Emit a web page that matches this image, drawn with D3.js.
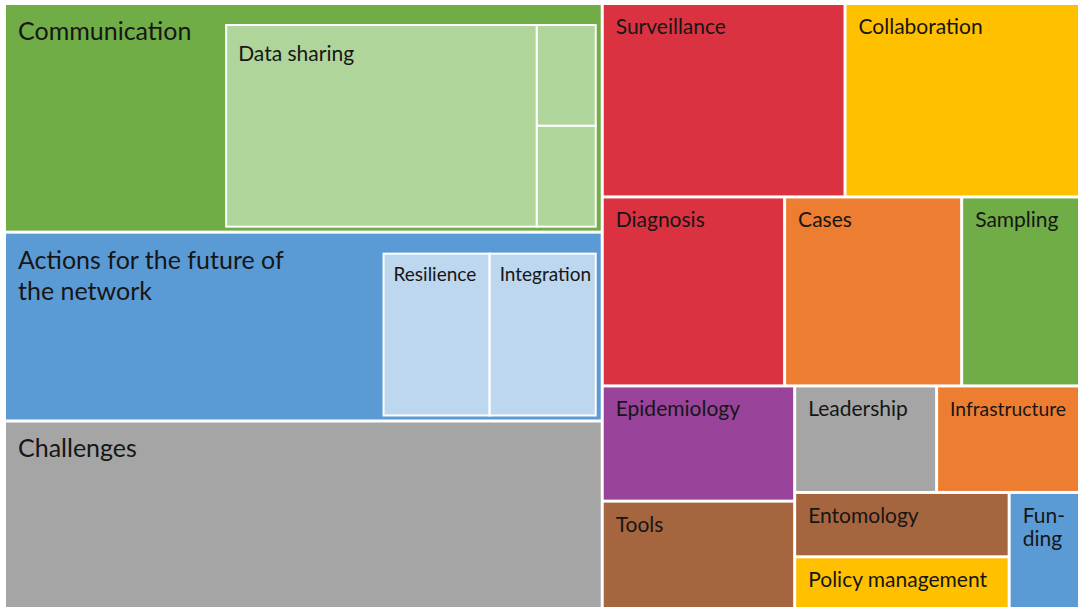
<!DOCTYPE html>
<html>
<head>
<meta charset="utf-8">
<script src="https://cdn.jsdelivr.net/npm/d3@7/dist/d3.min.js"></script>
<style>
  body { margin: 0; background: #fff; }
  svg { display: block; }
  text { font-family: Lato, "Open Sans", sans-serif; fill: #161616; }
</style>
</head>
<body>
<div id="chart"></div>
<script>
// Theme areas (share of coded mentions, arbitrary units)
const leftThemes = ["Communication", "Actions for the future of the network", "Challenges"];
const leftValues = [135.6, 112.0, 111.2];

const row1Themes = ["Surveillance", "Collaboration"];
const row1Values = [46.6, 45.0];
const row2Themes = ["Diagnosis", "Cases", "Sampling"];
const row2Values = [34.2, 33.2, 22.1];
const row3ColThemes = ["Epidemiology", "Tools"];
const row3ColValues = [22.0, 20.5];
const row3TopThemes = ["Leadership", "Infrastructure"];
const row3TopValues = [15.0, 15.1];
const row3StackThemes = ["Entomology", "Policy management"];
const row3StackValues = [13.7, 11.0];
const row3SideThemes = ["Funding"];
const row3SideValues = [8.1];

// Sub-themes shown inside their parent
const commSubThemes = ["Data sharing", "", ""];
const commSubValues = [63.3, 6.0, 6.0];
const actionSubThemes = ["Resilience", "Integration"];
const actionSubValues = [17.4, 17.4];

// Label line breaks
const labelLines = {
  "Actions for the future of the network": ["Actions for the future of", "the network"],
  "Funding": ["Fun-", "ding"]
};

const colors = {
  "Communication": "#70ad47", "Actions for the future of the network": "#5b9bd5",
  "Challenges": "#a5a5a5", "Surveillance": "#db3241", "Collaboration": "#ffc000",
  "Diagnosis": "#db3241", "Cases": "#ed7d31", "Sampling": "#70ad47",
  "Epidemiology": "#9a439b", "Tools": "#a5653f", "Leadership": "#a5a5a5",
  "Infrastructure": "#ed7d31", "Entomology": "#a5653f", "Policy management": "#ffc000",
  "Funding": "#5b9bd5"
};
const subColors = {
  "Communication": "#b0d59a",
  "Actions for the future of the network": "#bdd7ee"
};

const W = 1084, H = 613;
const margin = { left: 6, top: 5, right: 6, bottom: 6 };

function leaves(names, values) {
  return names.map((n, i) => ({ name: n, value: values[i] }));
}

const subThemes = {
  "Communication": { children: [
    leaves(commSubThemes, commSubValues)[0],
    { children: leaves(commSubThemes, commSubValues).slice(1) }
  ] },
  "Actions for the future of the network": { children: leaves(actionSubThemes, actionSubValues) }
};

const data = {
  children: [
    { children: leaves(leftThemes, leftValues) },
    { children: [
      { children: leaves(row1Themes, row1Values) },
      { children: leaves(row2Themes, row2Values) },
      { children: [
        { children: leaves(row3ColThemes, row3ColValues) },
        { children: [
          { children: leaves(row3TopThemes, row3TopValues) },
          { children: [
            { children: leaves(row3StackThemes, row3StackValues) },
            ...leaves(row3SideThemes, row3SideValues)
          ] }
        ] }
      ] }
    ] }
  ]
};

const root = d3.hierarchy(data).sum(d => d.value || 0);

d3.treemap()
  .tile(d3.treemapSliceDice)
  .size([W - margin.left - margin.right, H - margin.top - margin.bottom])
  .paddingInner(3)(root);

const svg = d3.select("#chart").append("svg")
  .attr("width", W).attr("height", H);

const g = svg.append("g")
  .attr("transform", `translate(${margin.left},${margin.top})`);

const isBig = d => leftThemes.includes(d.data.name);

// Draw a label, shrinking the font if it does not fit
function addLabel(sel, lines, x, y, size, maxW, lineH) {
  const t = sel.append("text").attr("x", x).attr("y", y).style("font-size", size + "px");
  lines.forEach((l, i) => {
    t.append("tspan").attr("x", x).attr("dy", i === 0 ? 0 : lineH).text(l);
  });
  let wMax = d3.max(t.selectAll("tspan").nodes(), n => n.getComputedTextLength());
  if (wMax > maxW) t.style("font-size", (size * maxW / wMax) + "px");
}

const cells = g.selectAll("g.cell")
  .data(root.leaves())
  .join("g")
  .attr("class", "cell")
  .attr("transform", d => `translate(${d.x0},${d.y0})`);

cells.append("rect")
  .attr("width", d => d.x1 - d.x0)
  .attr("height", d => d.y1 - d.y0)
  .attr("fill", d => colors[d.data.name]);

cells.each(function (d) {
  const cell = d3.select(this);
  const w = d.x1 - d.x0, h = d.y1 - d.y0;
  const lines = labelLines[d.data.name] || [d.data.name];
  if (isBig(d)) {
    addLabel(cell, lines, 12, 35, 25, w * 0.6, 31);
  } else {
    addLabel(cell, lines, 12, 29, 21, w - 24, 23);
  }

  // nested sub-theme treemap
  const sub = subThemes[d.data.name];
  if (!sub) return;
  const subRoot = d3.hierarchy(sub).sum(s => s.value || 0);
  const padT = 20, padR = 5, padB = 4;
  const ih = h - padT - padB;
  const iw = (subRoot.value / d.value) * (w * h) / ih;
  d3.treemap().tile(d3.treemapSliceDice).size([iw, ih])(subRoot);

  const inset = cell.append("g")
    .attr("transform", `translate(${w - padR - iw},${padT})`);
  const sc = inset.selectAll("g")
    .data(subRoot.leaves())
    .join("g")
    .attr("transform", s => `translate(${s.x0},${s.y0})`);
  sc.append("rect")
    .attr("width", s => s.x1 - s.x0)
    .attr("height", s => s.y1 - s.y0)
    .attr("fill", subColors[d.data.name])
    .attr("stroke", "#fff")
    .attr("stroke-width", 2);
  sc.filter(s => s.data.name).each(function (s) {
    const big = d.data.name === "Communication";
    addLabel(d3.select(this), [s.data.name], big ? 12 : 10, big ? 36 : 27, big ? 21 : 19, s.x1 - s.x0 - 14, 22);
  });
});
</script>
</body>
</html>
